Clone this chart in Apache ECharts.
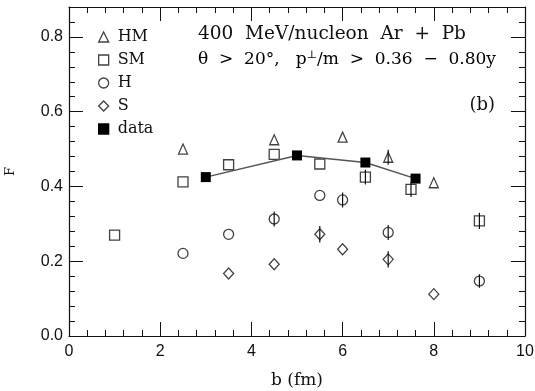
<!DOCTYPE html>
<html>
<head>
<meta charset="utf-8">
<script src="https://cdn.jsdelivr.net/npm/echarts@6/dist/echarts.min.js"></script>
<style>html,body{margin:0;padding:0;background:#fff}#c{width:535px;height:391px}</style>
</head>
<body>
<div id="c"></div>
<script>
// ---- data ----
var b_HM = [2.5, 4.5, 6.0, 7.0, 8.0];
var F_HM = [0.50, 0.525, 0.532, 0.478, 0.41];
var e_HM = [0, 0, 0, 0.02, 0];

var b_SM = [1.0, 2.5, 3.5, 4.5, 5.5, 6.5, 7.5, 9.0];
var F_SM = [0.27, 0.412, 0.458, 0.486, 0.46, 0.425, 0.392, 0.308];
var e_SM = [0, 0, 0, 0, 0, 0.02, 0.02, 0.022];

var b_H = [2.5, 3.5, 4.5, 5.5, 6.0, 7.0, 9.0];
var F_H = [0.221, 0.272, 0.313, 0.376, 0.364, 0.277, 0.147];
var e_H = [0, 0, 0.02, 0, 0.02, 0.02, 0.018];

var b_S = [3.5, 4.5, 5.5, 6.0, 7.0, 8.0];
var F_S = [0.167, 0.192, 0.272, 0.232, 0.205, 0.112];
var e_S = [0, 0, 0.022, 0, 0.022, 0];

var b_data = [3.0, 5.0, 6.5, 7.6];
var F_data = [0.425, 0.483, 0.464, 0.421];

var xTicks = [0, 2, 4, 6, 8, 10];
var yTicks = [0.0, 0.2, 0.4, 0.6, 0.8];

function zip(a, b) { return a.map(function (v, i) { return [v, b[i]]; }); }
function errs(a, b, e) {
  var out = [];
  a.forEach(function (v, i) { if (e[i] > 0) out.push([v, b[i] - e[i], b[i] + e[i]]); });
  return out;
}
var errData = [].concat(errs(b_HM, F_HM, e_HM), errs(b_SM, F_SM, e_SM), errs(b_H, F_H, e_H), errs(b_S, F_S, e_S));

var serif = 'DejaVu Serif';
var sans = 'Liberation Sans';
var ink = '#111';
var openStyle = { color: '#fff', borderColor: ink, borderWidth: 1.3 };

var majorTick = { show: true, inside: true, length: 14, lineStyle: { color: ink, width: 1 } };
var minorT = { show: true, splitNumber: 5, length: 6, lineStyle: { color: ink, width: 1 } };
var axLine = { show: true, onZero: false, lineStyle: { color: ink, width: 1.2 } };

var chart = echarts.init(document.getElementById('c'), null, { renderer: 'canvas' });
chart.setOption({
  animation: false,
  backgroundColor: '#fff',
  grid: { left: 69, right: 10, top: 7, bottom: 55, outerBoundsMode: 'none', containLabel: false },
  legend: {
    orient: 'vertical', left: 93, top: 24,
    itemWidth: 10, itemHeight: 10, itemGap: 7,
    itemStyle: { borderColor: ink, borderWidth: 1.3 },
    textStyle: { fontFamily: serif, fontSize: 16, color: ink, lineHeight: 16, padding: [0, 0, 0, 4] },
    data: [
      { name: 'HM' }, { name: 'SM' }, { name: 'H' }, { name: 'S' },
      { name: 'data', icon: 'rect', itemStyle: { color: '#000', borderColor: '#000' } }
    ]
  },
  xAxis: [
    { type: 'value', position: 'bottom', min: xTicks[0], max: xTicks[xTicks.length - 1], interval: 2,
      axisLine: axLine, axisTick: majorTick, minorTick: minorT,
      splitLine: { show: false }, minorSplitLine: { show: false },
      axisLabel: { fontFamily: sans, fontSize: 16, color: ink, margin: 8 },
      name: 'b (fm)', nameLocation: 'middle', nameGap: 36,
      nameTextStyle: { fontFamily: serif, fontSize: 17, color: ink } },
    { type: 'value', position: 'top', min: 0, max: 10, interval: 2,
      axisLine: axLine, axisTick: majorTick, minorTick: minorT,
      splitLine: { show: false }, axisLabel: { show: false } }
  ],
  yAxis: [
    { type: 'value', position: 'left', min: 0, max: 0.88, interval: 0.2,
      axisLine: axLine, axisTick: majorTick, minorTick: minorT, splitLine: { show: false },
      axisLabel: { fontFamily: sans, fontSize: 16, color: ink, margin: 6,
        formatter: function (v) { return yTicks.some(function (t) { return Math.abs(t - v) < 1e-6; }) ? v.toFixed(1) : ''; } },
      name: 'F', nameLocation: 'middle', nameGap: 52, nameRotate: 90,
      nameTextStyle: { fontFamily: serif, fontSize: 13, color: ink } },
    { type: 'value', position: 'right', min: 0, max: 0.88, interval: 0.2,
      axisLine: axLine, axisTick: majorTick, minorTick: minorT, splitLine: { show: false }, axisLabel: { show: false } }
  ],
  graphic: [
    { type: 'text', left: 198, top: 25, style: { text: '400  MeV/nucleon  Ar  +  Pb', font: '18.5px "DejaVu Serif"', fill: ink } },
    { type: 'text', left: 198, top: 50, style: {
        text: '{t|θ  >  20°,   p}{s|⊥}{t|/m  >  0.36  −  0.80y}',
        rich: { t: { fontFamily: serif, fontSize: 17, color: ink },
                s: { fontFamily: serif, fontSize: 11, color: ink, verticalAlign: 'top', padding: [0, 0, 8, 0] } } } },
    { type: 'text', right: 40, top: 96, style: { text: '(b)', font: '18px "DejaVu Serif"', fill: ink } }
  ],
  series: [
    { name: 'HM', type: 'scatter', symbol: 'triangle', symbolSize: [9, 10], data: zip(b_HM, F_HM), itemStyle: openStyle, z: 3 },
    { name: 'SM', type: 'scatter', symbol: 'rect', symbolSize: 10, data: zip(b_SM, F_SM), itemStyle: openStyle, z: 3 },
    { name: 'H', type: 'scatter', symbol: 'circle', symbolSize: 10, data: zip(b_H, F_H), itemStyle: openStyle, z: 3 },
    { name: 'S', type: 'scatter', symbol: 'diamond', symbolSize: [10, 11], data: zip(b_S, F_S), itemStyle: openStyle, z: 3 },
    { name: 'data', type: 'line', symbol: 'rect', symbolSize: 10, showSymbol: true, data: zip(b_data, F_data),
      itemStyle: { color: '#000' }, lineStyle: { color: '#555', width: 1.5 }, z: 4 },
    { name: 'err', type: 'custom', data: errData, z: 5,
      renderItem: function (params, api) {
        var p1 = api.coord([api.value(0), api.value(1)]);
        var p2 = api.coord([api.value(0), api.value(2)]);
        return { type: 'line', shape: { x1: p1[0], y1: p1[1], x2: p2[0], y2: p2[1] },
                 style: { stroke: ink, lineWidth: 1.2 } };
      } }
  ]
});
</script>
</body>
</html>
